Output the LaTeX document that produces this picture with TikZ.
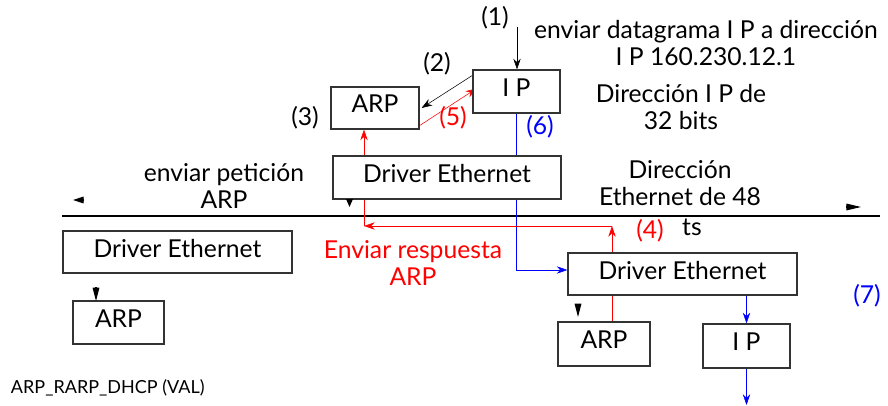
\documentclass[tikz,border=0pt]{standalone}
\usepackage{fontspec}
\setmainfont{Lato}
\usepackage{tikz}
\usetikzlibrary{arrows.meta}
\usetikzlibrary{positioning}
\usetikzlibrary{calc}
\usetikzlibrary{backgrounds}

\tikzset{
	caja/.style={draw=black!80,fill=white,inner sep=0pt,text depth=6pt,line width=0.9pt},
	punta/.style={-{Triangle[length=#1,width=5pt]}},
	punta/.default=10pt
}

\begin{document}
\begin{tikzpicture}[>={Stealth[length=8pt,width=5.5pt]},x=0.75pt,y=-0.75pt,line width=0.8pt,font=\fontsize{18.5}{20}\selectfont]
			\useasboundingbox (0,0) rectangle (888,406);
			% cajas
			\node[caja,minimum width=65.25pt,minimum height=32.25pt] (ipA) at (516.5,91.5) {I P};
			\node[caja,minimum width=66pt,minimum height=31.5pt] (arpA) at (375,108) {ARP};
			\node[caja,minimum width=171pt,minimum height=32.25pt] (drvA) at (447,177.5) {Driver Ethernet};
			\node[caja,minimum width=171.75pt,minimum height=31.5pt] (drvB) at (177.5,252) {Driver Ethernet};
			\node[caja,minimum width=68.25pt,minimum height=32.25pt] (arpB) at (118.5,322.5) {ARP};
			\node[caja,minimum width=171.75pt,minimum height=31.5pt] (drvC) at (682.5,274) {Driver Ethernet};
			\node[caja,minimum width=69pt,minimum height=33pt] (arpC) at (604,344) {ARP};
			\node[caja,minimum width=65.25pt,minimum height=33pt] (ipC) at (746.5,346) {I P};
			% puntos de paso
			\coordinate (c1) at (517,27);
			\coordinate (busL) at (62,216);
			\coordinate (busR) at (880,216);
			\coordinate (r1) at (364,226);
			\coordinate (r2) at (612,226);
			\coordinate (ipOut) at (746.5,405);
			% conexiones
			\begin{scope}[on background layer]
				\draw[line width=2.2pt] (busL)--(busR);
				\draw[->] (c1)--(c1 |- ipA.north);
				\draw[->] ($(ipA.north west)+(0,6)$)--($(arpA.east)+(2,0)$);
				\draw[red,->] ($(arpA.south east)+(0,-4)$)--($(ipA.west)+(4,-3)$);
				\draw[blue,->] (ipA.south)|-($(drvC.west)+(0,-4)$);
				\draw[red,->] (r2 |- drvC.north)--(r2);
				\draw[red,->] (r2)--(r1);
				\draw[red,->] (r1)--(r1 |- arpA.south);
				\draw[red] (r2 |- drvC.south)--(r2 |- arpC.north);
				\draw[blue,->] (ipC |- drvC.south)--(ipC.north);
				\draw[blue,->] (ipC.south)--(ipOut);
			\end{scope}
			% puntas sueltas
			\draw[punta=8pt] (84,200)--(73,200);
			\draw[punta=11pt] (846,207)--(861,207);
			\draw[punta=6pt] (349.5,199)--(349.5,207);
			\draw[punta] (96,287)--(96,301);
			\draw[punta] (578,304)--(578,317);
			% textos
			\node (n1) at (495,18) {(1)};
			\node[align=center] (tDatagrama) at (706,43) {enviar datagrama I P a dirección\\I P 160.230.12.1};
			\node (n2) at (437,64) {(2)};
			\node (n3) at (305,118) {(3)};
			\node[red] (n5) at (453,118) {(5)};
			\node[align=center] (tDirIP) at (681,107) {Dirección I P de\\32 bits};
			\node[blue] (n6) at (540,127) {(6)};
			\node[align=center] (tPeticion) at (224,186) {enviar petición\\ARP};
			\node[align=center] (tDirEth) at (680,183) {Dirección\\Ethernet de 48};
			\node (tBits) at (692,227) {ts};
			\node[red] (n4) at (650,231) {(4)};
			\node[red,align=center] (tRespuesta) at (413,263) {Enviar respuesta\\ARP};
			\node[blue] (n7) at (867,296) {(7)};
			\node[anchor=west,font=\fontsize{13.5}{15}\selectfont] (tPie) at (6,388) {ARP\_RARP\_DHCP (VAL)};
\end{tikzpicture}
\end{document}
